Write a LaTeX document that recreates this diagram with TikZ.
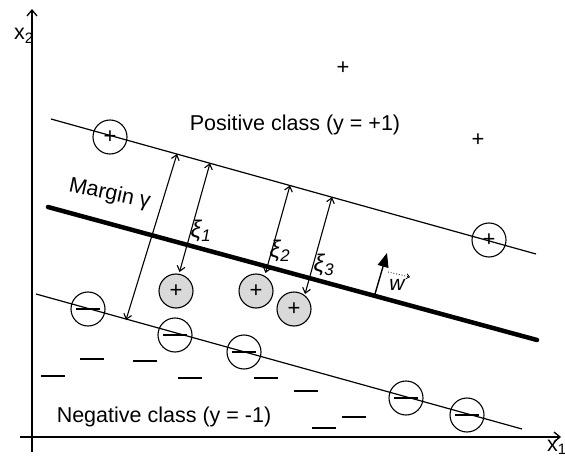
\documentclass[tikz,border=0pt]{standalone}
\usepackage{fontspec}
\setmainfont{Liberation Sans}
\usetikzlibrary{arrows.meta}
\definecolor{svfill}{RGB}{217,217,217}
\newcommand{\negbar}{\rule{24pt}{1.3pt}}
\tikzset{
  poscirc/.style={circle,draw,line width=1.1pt,minimum size=34pt,inner sep=0pt,font=\fontsize{22}{22}\selectfont},
  supvec/.style={poscirc,fill=svfill},
  negcirc/.style={circle,draw,line width=1.1pt,minimum size=34pt,inner sep=0pt},
  freesign/.style={inner sep=0pt,font=\fontsize{22}{22}\selectfont},
  slacklabel/.style={font=\fontsize{24}{24}\selectfont\itshape},
  bound/.style={line width=1.2pt},
  hyper/.style={line width=4.5pt,line cap=round},
  dist/.style={line width=1.1pt,{Straight Barb[length=5pt,width=8pt]}-{Straight Barb[length=5pt,width=8pt]}},
  axis/.style={line width=1.3pt,-{Straight Barb[length=6pt,width=10pt]}}
}

\begin{document}
\begin{tikzpicture}[x=1pt,y=-1pt,every node/.style={font=\fontsize{21.5}{24}\selectfont}]
  \useasboundingbox (0,0) rectangle (565,457);
  % axes
  \coordinate (xs) at (20,437);
  \coordinate (xe) at (561,437);
  \coordinate (ys) at (32,452);
  \coordinate (ye) at (32,9);
  \draw[axis] (xs) -- (xe);
  \draw[axis] (ys) -- (ye);
  \node[inner sep=0pt,anchor=base east] (x2) at (34,40) {x\textsubscript{2}};
  \node[inner sep=0pt,anchor=base west] (x1) at (547,451) {x\textsubscript{1}};
  % margin lines and hyperplane
  \coordinate (u1) at (51,119);
  \coordinate (u2) at (536,254);
  \coordinate (h1) at (48,207);
  \coordinate (h2) at (537,340);
  \coordinate (l1) at (36,294);
  \coordinate (l2) at (522,429);
  \draw[bound] (u1) -- (u2);
  \draw[hyper] (h1) -- (h2);
  \draw[bound] (l1) -- (l2);
  % samples
  \foreach \x/\y/\n in {110/137/pa,489/240/pb}
    \node[poscirc] (\n) at (\x,\y) {+};
  \foreach \x/\y/\n in {176/291/s1,256/291/s2,294/309/s3}
    \node[supvec] (\n) at (\x,\y) {+};
  \foreach \x/\y/\n in {88/309/na,175/335/nb,244/352/nc,406/398/nd,467/415/ne}
    \node[negcirc] (\n) at (\x,\y) {\negbar};
  \foreach \x/\y/\n in {343/68/fa,478/140/fb}
    \node[freesign] (\n) at (\x,\y) {+};
  \foreach \x/\y/\n in {92/359/ma,145/361/mb,53/376/mc,190/378/md,266/378/me,306/391/mf,354/417/mg,324/428/mh}
    \node[inner sep=0pt] (\n) at (\x,\y) {\negbar};
  % margin and slack arrows
  \coordinate (g1) at (177,154);
  \coordinate (g2) at (126,320);
  \draw[dist] (g1) -- (g2);
  \coordinate (a1) at (210,163.2);
  \coordinate (b1) at (179.5,272);
  \coordinate (a2) at (290,185.4);
  \coordinate (b2) at (265.5,273);
  \coordinate (a3) at (332,197.1);
  \coordinate (b3) at (305,294);
  \draw[dist] (a1) -- (b1);
  \draw[dist] (a2) -- (b2);
  \draw[dist] (a3) -- (b3);
  \node[slacklabel] (xi1) at (201,231) {ξ\textsubscript{1}};
  \node[slacklabel] (xi2) at (280,251) {ξ\textsubscript{2}};
  \node[slacklabel] (xi3) at (324,265) {ξ\textsubscript{3}};
  % normal vector
  \coordinate (w0) at (375,294);
  \coordinate (w1) at (387,253);
  \draw[line width=1.4pt,-{Triangle[length=14pt,width=11pt]}] (w0) -- (w1);
  \coordinate (v0) at (388,272);
  \coordinate (v1) at (410,277);
  \draw[line width=0.8pt,dotted,-{Straight Barb[length=3pt,width=5pt]}] (v0) -- (v1);
  \node[font=\fontsize{21}{21}\selectfont\itshape,inner sep=0pt] (wl) at (397,285) {w};
  % class labels
  \node[anchor=base,inner sep=0pt] (pos) at (295,131) {Positive class (y = +1)};
  \node[anchor=base,inner sep=0pt] (neg) at (164,422.5) {Negative class (y = -1)};
  \node[anchor=base west,inner sep=0pt,rotate=-12] (mg) at (68,191) {Margin γ};
\end{tikzpicture}
\end{document}
